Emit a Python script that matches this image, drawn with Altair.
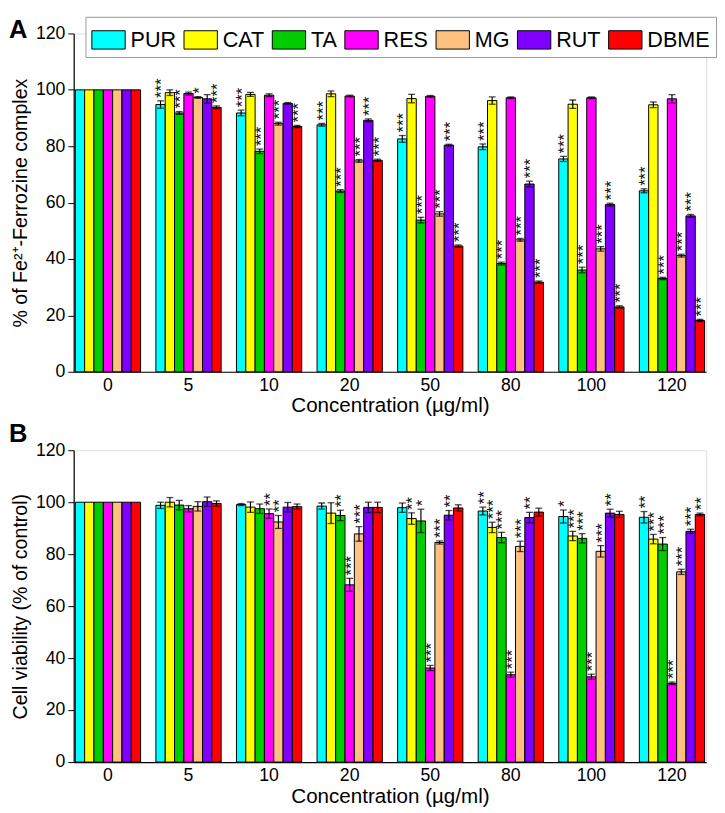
import altair as alt
import pandas as pd

concentrations = ["0", "5", "10", "20", "50", "80", "100", "120"]
compounds = ["PUR", "CAT", "TA", "RES", "MG", "RUT", "DBME"]
colors = ["#00FFFF", "#FFFF00", "#00CC00", "#FF00FF", "#FFC080", "#8000FF", "#FF0000"]

# Panel A: % of Fe2+-Ferrozine complex
A_PUR = [100, 94.8, 91.8, 87.6, 82.6, 79.8, 75.5, 64.2]
A_CAT = [100, 99.0, 98.4, 98.6, 96.9, 96.2, 94.9, 94.7]
A_TA = [100, 91.8, 78.2, 64.1, 53.8, 38.4, 36.1, 33.1]
A_RES = [100, 98.7, 98.1, 97.8, 97.7, 97.2, 97.2, 96.8]
A_MG = [100, 97.3, 88.0, 74.8, 56.0, 46.8, 43.6, 41.2]
A_RUT = [100, 96.8, 95.2, 89.2, 80.4, 66.6, 59.3, 55.3]
A_DBME = [100, 93.8, 87.0, 75.0, 44.6, 31.8, 23.0, 18.2]

A_PUR_err = [0, 1.3, 1.0, 0.5, 1.2, 1.0, 0.9, 0.7]
A_CAT_err = [0, 1.0, 0.7, 1.0, 1.5, 1.3, 1.5, 1.0]
A_TA_err = [0, 0.5, 0.8, 0.5, 1.0, 0.5, 1.0, 0.4]
A_RES_err = [0, 0.5, 0.5, 0.3, 0.3, 0.3, 0.3, 1.5]
A_MG_err = [0, 0.3, 0.5, 0.5, 0.8, 0.5, 0.8, 0.5]
A_RUT_err = [0, 1.5, 0.3, 0.5, 0.3, 1.0, 0.5, 0.5]
A_DBME_err = [0, 0.5, 0.4, 0.4, 0.4, 0.4, 0.4, 0.4]

A_PUR_sig = ["", "***", "***", "***", "***", "***", "***", "***"]
A_CAT_sig = ["", "", "", "", "", "", "", ""]
A_TA_sig = ["", "***", "***", "***", "***", "***", "***", "***"]
A_RES_sig = ["", "", "", "", "", "", "", ""]
A_MG_sig = ["", "*", "***", "***", "***", "***", "***", "***"]
A_RUT_sig = ["", "", "", "***", "***", "***", "***", "***"]
A_DBME_sig = ["", "***", "***", "***", "***", "***", "***", "***"]

# Panel B: Cell viability (% of control)
B_PUR = [100, 98.8, 99.1, 98.5, 97.9, 96.6, 94.5, 94.2]
B_CAT = [100, 100.0, 98.1, 95.8, 93.7, 90.3, 87.0, 85.8]
B_TA = [100, 98.9, 97.5, 94.9, 92.8, 86.4, 86.1, 83.9]
B_RES = [100, 97.5, 95.6, 68.2, 36.2, 33.6, 32.8, 30.3]
B_MG = [100, 98.4, 92.4, 87.8, 84.5, 83.0, 81.1, 73.2]
B_RUT = [100, 100.2, 98.1, 98.0, 95.0, 94.1, 95.8, 88.8]
B_DBME = [100, 99.5, 98.3, 98.0, 97.8, 96.2, 95.3, 95.3]

B_PUR_err = [0, 1.2, 0.4, 1.2, 1.8, 1.5, 2.5, 2.2]
B_CAT_err = [0, 1.8, 2.0, 4.0, 2.2, 2.0, 1.8, 1.8]
B_TA_err = [0, 1.8, 1.8, 2.0, 4.5, 2.0, 1.8, 2.5]
B_RES_err = [0, 1.2, 1.8, 2.5, 1.0, 1.0, 1.0, 0.5]
B_MG_err = [0, 1.8, 2.5, 2.8, 0.6, 2.0, 2.2, 1.0]
B_RUT_err = [0, 1.8, 1.8, 2.0, 1.8, 2.0, 1.5, 0.8]
B_DBME_err = [0, 1.0, 1.0, 2.0, 1.2, 1.5, 1.2, 0.5]

B_PUR_sig = ["", "", "", "", "", "**", "*", "**"]
B_CAT_sig = ["", "", "", "", "**", "***", "***", "***"]
B_TA_sig = ["", "", "", "**", "*", "***", "***", "***"]
B_RES_sig = ["", "", "**", "***", "***", "***", "***", "***"]
B_MG_sig = ["", "", "**", "***", "***", "***", "***", "***"]
B_RUT_sig = ["", "", "", "", "**", "**", "**", "***"]
B_DBME_sig = ["", "", "", "", "", "", "", "**"]

A_vals = [A_PUR, A_CAT, A_TA, A_RES, A_MG, A_RUT, A_DBME]
A_errs = [A_PUR_err, A_CAT_err, A_TA_err, A_RES_err, A_MG_err, A_RUT_err, A_DBME_err]
A_sigs = [A_PUR_sig, A_CAT_sig, A_TA_sig, A_RES_sig, A_MG_sig, A_RUT_sig, A_DBME_sig]
B_vals = [B_PUR, B_CAT, B_TA, B_RES, B_MG, B_RUT, B_DBME]
B_errs = [B_PUR_err, B_CAT_err, B_TA_err, B_RES_err, B_MG_err, B_RUT_err, B_DBME_err]
B_sigs = [B_PUR_sig, B_CAT_sig, B_TA_sig, B_RES_sig, B_MG_sig, B_RUT_sig, B_DBME_sig]

FONT = "Liberation Sans"


def make_df(vals, errs, sigs):
    rows = []
    for comp, v_list, e_list, s_list in zip(compounds, vals, errs, sigs):
        for c, v, e, s in zip(concentrations, v_list, e_list, s_list):
            rows.append(dict(conc=c, compound=comp, value=v, err=e,
                             lo=v - e, hi=v + e, sig=s))
    return pd.DataFrame(rows)


def panel(vals, errs, sigs, ytitle, letter, height, letter_y):
    df = make_df(vals, errs, sigs)
    x = alt.X(
        "conc:N", sort=concentrations,
        scale=alt.Scale(paddingInner=0.19, paddingOuter=0.02),
        axis=alt.Axis(title="Concentration (µg/ml)", labelAngle=0, ticks=False,
                      domainColor="black", domainWidth=1.2,
                      labelFontSize=18, titleFontSize=21, titleFontWeight="normal",
                      labelPadding=5, titlePadding=1, labelColor="black",
                      titleColor="black", labelFont=FONT, titleFont=FONT),
    )
    xo = alt.XOffset("compound:N", sort=compounds,
                     scale=alt.Scale(paddingInner=0, paddingOuter=0))
    yscale = alt.Scale(domain=[0, 120], nice=False)
    yaxis = alt.Axis(
        title=ytitle, values=list(range(0, 121, 10)),
        labelExpr="datum.value % 20 == 0 ? datum.label : ''",
        labelOverlap=False, grid=False,
        tickSize={"condition": {"test": "datum.value % 20 == 0", "value": 6}, "value": 4},
        tickColor="black", domainColor="black", domainWidth=1.2,
        labelFontSize=18, titleFontSize=20, titleFontWeight="normal",
        labelColor="black", titleColor="black", labelPadding=3, titlePadding=5,
        labelFont=FONT, titleFont=FONT,
    )
    base = alt.Chart(df).encode(x=x, xOffset=xo)
    bars = base.mark_bar(stroke="black", strokeWidth=1, opacity=1).encode(
        y=alt.Y("value:Q", scale=yscale, axis=yaxis),
        color=alt.Color(
            "compound:N", sort=compounds,
            scale=alt.Scale(domain=compounds, range=colors),
            legend=alt.Legend(
                orient="none", legendX=12, legendY=-17, direction="horizontal",
                title=None, symbolType="M-1,-0.55H1V0.55H-1Z", symbolSize=1156,
                symbolStrokeColor="black", symbolStrokeWidth=1, symbolOpacity=1,
                labelFontSize=22, labelFont=FONT, labelColor="black",
                labelOffset=5, columnPadding=5, padding=6,
                strokeColor="#999999", fillColor="white", labelLimit=0,
            ),
        ),
    )
    eb = base.transform_filter("datum.err > 0")
    rules = eb.mark_rule(color="black", strokeWidth=1.2).encode(
        y=alt.Y("lo:Q", scale=yscale), y2="hi:Q")
    cap_hi = eb.mark_tick(color="black", thickness=1.3, size=7).encode(
        y=alt.Y("hi:Q", scale=yscale))
    cap_lo = eb.mark_tick(color="black", thickness=1.3, size=7).encode(
        y=alt.Y("lo:Q", scale=yscale))
    stars = base.transform_filter("datum.sig != ''").mark_text(
        angle=270, align="left", baseline="middle", dx=3, dy=2,
        fontSize=17, color="#111111", font=FONT,
    ).encode(y=alt.Y("hi:Q", scale=yscale), text="sig:N")
    lab = alt.Chart(pd.DataFrame({"label": [letter]})).mark_text(
        fontSize=26, fontWeight="bold", align="left", baseline="middle",
        font=FONT, color="black",
    ).encode(x=alt.value(-66), y=alt.value(letter_y), text="label:N")
    return alt.layer(bars, rules, cap_hi, cap_lo, stars, lab).properties(
        width=645, height=height)


chart_a = panel(A_vals, A_errs, A_sigs, "% of Fe²⁺-Ferrozine complex", "A", 345, -3)
chart_b = panel(B_vals, B_errs, B_sigs, "Cell viability (% of control)", "B", 318, -16)

chart = alt.vconcat(chart_a, chart_b, spacing=4).properties(padding=0).configure_view(
    stroke=None).configure(font=FONT)

chart.save("out.html", embed_options={"renderer": "svg", "actions": False})
